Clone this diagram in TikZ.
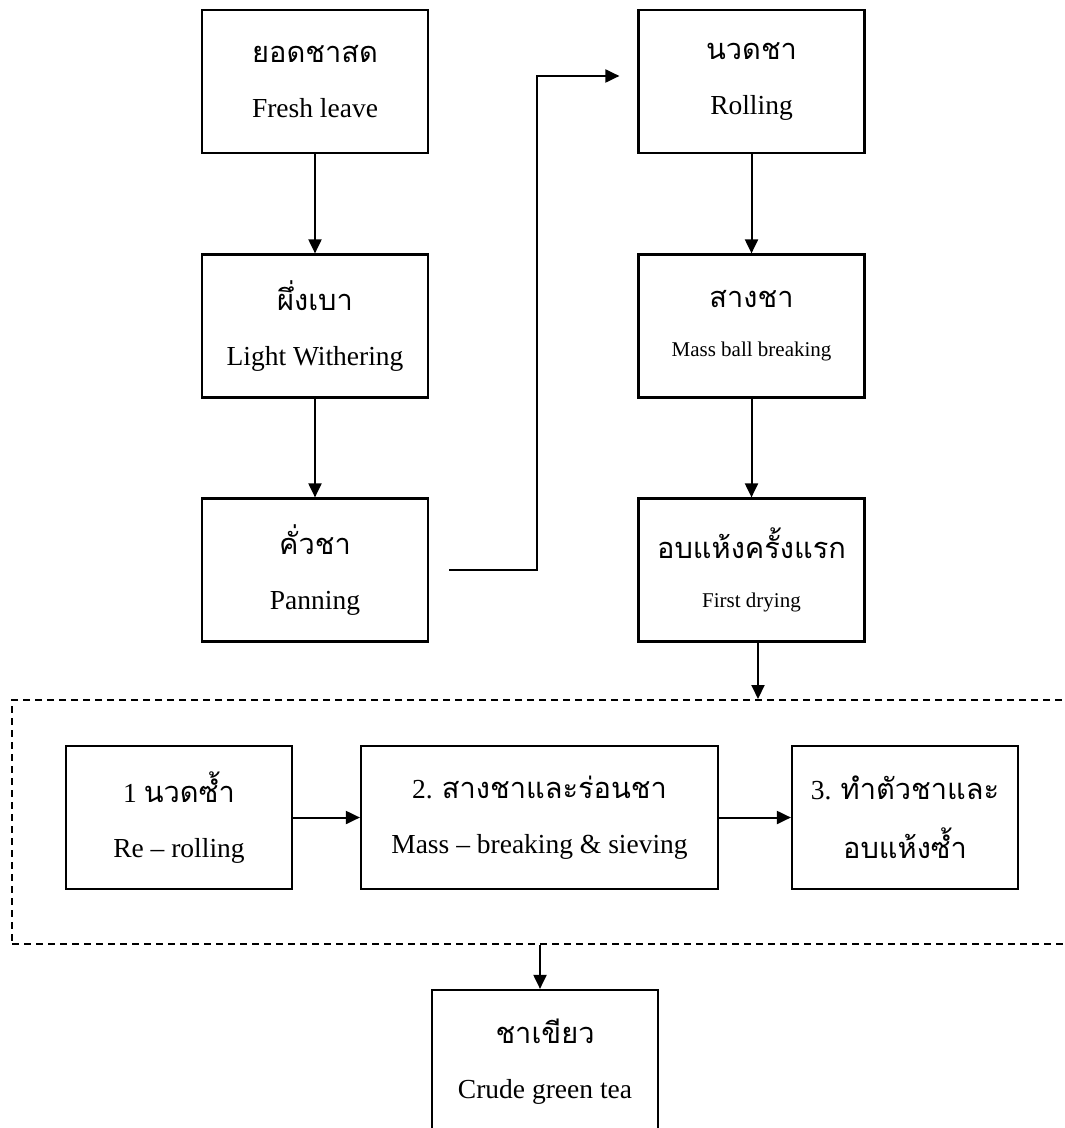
\documentclass[tikz,border=0pt]{standalone}
\usepackage{fontspec}
\setmainfont{Liberation Serif}
\newfontfamily\thaifont[Script=Thai]{Loma}
\usepackage{tikz}
\usetikzlibrary{
  arrows.meta,
  positioning
}
\tikzset{every picture/.style={line width=0.75pt}}
\tikzset{
  stepbox/.style={draw, line width=1.1pt, minimum width=113pt, minimum height=71.5pt,
    inner sep=0pt, align=center, font=\fontsize{13.75}{27.5}\selectfont},
  smallbox/.style={stepbox, font=\fontsize{10.5}{24.5}\selectfont},
  groupbox/.style={draw, line width=1pt, dash pattern=on 3.5pt off 2.5pt, inner sep=0pt},
  flow/.style={line width=1pt, -{Triangle[length=7pt,width=6.5pt]}}
}
\newcommand{\thai}[1]{{\thaifont\fontsize{14.5}{20}\selectfont #1}}

\begin{document}
\begin{tikzpicture}[x=0.5pt,y=0.5pt,yscale=-1,xscale=1]
\useasboundingbox (0,0) rectangle (1064,1128);

%Shape: Rectangle [left column]
\node [stepbox] (fresh) at (315,81.5) {\thai{ยอดชาสด}\\ Fresh leave};
\node [stepbox] (wither) at (315,326) {\thai{ผึ่งเบา}\\ Light Withering};
\node [stepbox] (pan) at (315,570) {\thai{คั่วชา}\\ Panning};
%Shape: Rectangle [right column]
\node [stepbox] (roll) at (751.5,81.5) {\thai{นวดชา}\\ Rolling};
\node [smallbox] (massball) at (751.5,326) {\thai{สางชา}\\ Mass ball breaking};
\node [smallbox] (dry) at (751.5,570) {\thai{อบแห้งครั้งแรก}\\ First drying};
%Shape: Rectangle [dashed group]
\node [groupbox, minimum width=531.5pt, minimum height=122pt] (grp) at (543.5,822) {};
%Shape: Rectangle [inner row]
\node [stepbox] (reroll) at (179,817.5) {1 \thai{นวดซ้ำ}\\ Re – rolling};
\node [stepbox, minimum width=178.5pt] (sieve) at (539.5,817.5) {2. \thai{สางชาและร่อนชา}\\ Mass – breaking \& sieving};
\node [stepbox, font=\fontsize{13.75}{29.5}\selectfont] (shape) at (905,817.5) {3. \thai{ทำตัวชาและ}\\ \thai{อบแห้งซ้ำ}};
%Shape: Rectangle [result]
\node [stepbox] (crude) at (545,1061.5) {\thai{ชาเขียว}\\ Crude green tea};

%Straight Lines
\draw [flow] (fresh) -- (wither);
\draw [flow] (wither) -- (pan);
\coordinate (panout) at ([xshift=10pt]pan.east);
\coordinate (rollin) at ([xshift=-9pt,yshift=-2.75pt]roll.west);
\coordinate (bend) at (537,300);
\draw [flow] (panout) -- (panout -| bend) -- (bend |- rollin) -- (rollin);
\draw [flow] (roll) -- (massball);
\draw [flow] (massball) -- (dry);
\draw [flow] ([xshift=3.25pt]dry.south) -- ([xshift=3.25pt]dry.south |- grp.north);
\draw [flow] (reroll) -- (sieve);
\draw [flow] (sieve) -- (shape);
\draw [flow] ([xshift=-2.5pt]crude.north |- grp.south) -- ([xshift=-2.5pt]crude.north);

\end{tikzpicture}
\end{document}
